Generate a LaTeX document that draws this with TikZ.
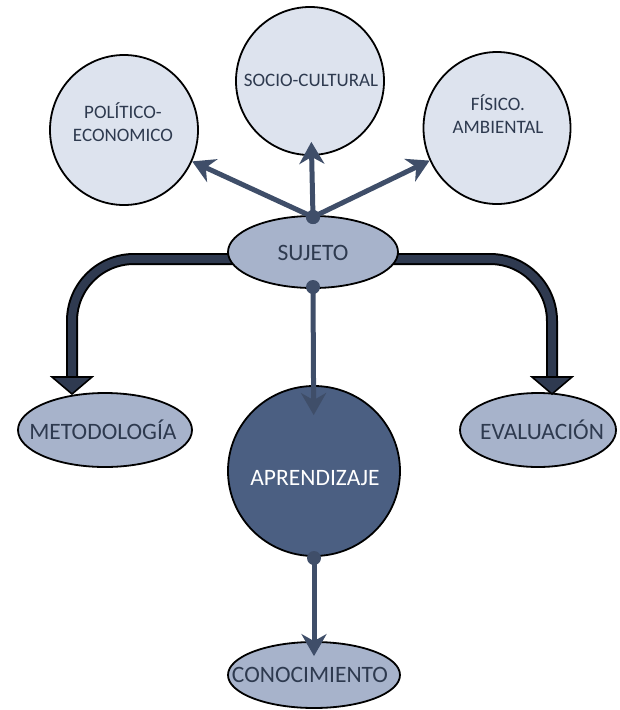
\documentclass[tikz,border=0pt]{standalone}
\usepackage{fontspec}
\setmainfont{Carlito}
\usetikzlibrary{shapes.geometric,arrows.meta,backgrounds}
\definecolor{lightfill}{HTML}{DDE3EE}
\definecolor{midfill}{HTML}{A7B3CB}
\definecolor{darkfill}{HTML}{4B5F82}
\definecolor{arrowcol}{HTML}{3F4E69}
\definecolor{shaftcol}{HTML}{2F3A50}
\definecolor{txtcol}{HTML}{2E3A4F}
\begin{document}
\begin{tikzpicture}[x=1pt,y=-1pt,
  shapebox/.style={ellipse,draw=black,line width=1.8pt,inner sep=0pt},
  biglbl/.style={text=txtcol,font=\fontsize{23.5}{26}\selectfont,align=center,inner sep=0pt},
  smalllbl/.style={text=txtcol,font=\fontsize{19}{22.5}\selectfont,align=center,inner sep=0pt},
  dotnode/.style={circle,fill=arrowcol,minimum size=14pt,inner sep=0pt},
  thinarrow/.style={draw=arrowcol,line width=5pt,-{Stealth[length=22pt,width=25pt,inset=7pt]}},
  bigshaft/.style={draw=black,line width=2pt,double=shaftcol,double distance=8pt,rounded corners=62pt},
  bighead/.style={fill=shaftcol,draw=black,line width=1.6pt,line join=miter}]
\useasboundingbox (0,0) rectangle (619,710);

% nodes
\node[shapebox,fill=lightfill,minimum width=148pt,minimum height=150pt] (pol) at (124,130) {};
\node[smalllbl] (polt) at (123,122) {POLÍTICO-\\ECONOMICO};
\node[shapebox,fill=lightfill,minimum width=148pt,minimum height=148pt] (soc) at (310,81) {};
\node[smalllbl] (soct) at (311,80) {SOCIO-CULTURAL};
\node[shapebox,fill=lightfill,minimum width=147pt,minimum height=152pt] (fis) at (497,128) {};
\node[smalllbl] (fist) at (498,114) {FÍSICO.\\AMBIENTAL};
\node[shapebox,fill=midfill,minimum width=170pt,minimum height=72pt] (suj) at (313,252) {};
\node[biglbl] (sujt) at (313,253) {SUJETO};
\node[shapebox,fill=midfill,minimum width=174pt,minimum height=74pt] (met) at (105,430) {};
\node[biglbl] (mett) at (103,430) {METODOLOGÍA};
\node[shapebox,fill=midfill,minimum width=156pt,minimum height=74pt] (eva) at (538,430) {};
\node[biglbl] (evat) at (542,430) {EVALUACIÓN};
\node[shapebox,fill=darkfill,minimum width=172pt,minimum height=170pt] (apr) at (314,471) {};
\node[biglbl,text=white] (aprt) at (315,478) {APRENDIZAJE};
\node[shapebox,fill=midfill,minimum width=172pt,minimum height=66pt] (con) at (314,675) {};
\node[biglbl] (cont) at (310,675) {CONOCIMIENTO};

\coordinate (mtip) at (72,394);
\coordinate (etip) at (552,394);

% thick bent connectors
\begin{scope}[on background layer]
\draw[bigshaft] ([yshift=-7pt]suj.center) -| ([yshift=17pt]mtip);
\draw[bigshaft] ([yshift=-7pt]suj.center) -| ([yshift=17pt]etip);
\end{scope}
\draw[bighead] (mtip) -- ++(-20,-17) -- ++(40,0) -- cycle;
\draw[bighead] (etip) -- ++(-20,-17) -- ++(40,0) -- cycle;

% dots
\node[dotnode] (dtop) at (313,217) {};
\node[dotnode] (dbot) at (313,287) {};
\node[dotnode] (dapr) at (314,558) {};

% thin arrows
\draw[thinarrow] (dtop.center) -- (pol);
\draw[thinarrow,shorten >=-14pt] (dtop.center) -- (soc);
\draw[thinarrow] (dtop.center) -- (fis);
\draw[thinarrow,shorten >=-30pt] (dbot.center) -- (apr);
\draw[thinarrow,shorten >=-15pt] (dapr.center) -- (con);
\node[dotnode] at (dtop) {};
\end{tikzpicture}
\end{document}
